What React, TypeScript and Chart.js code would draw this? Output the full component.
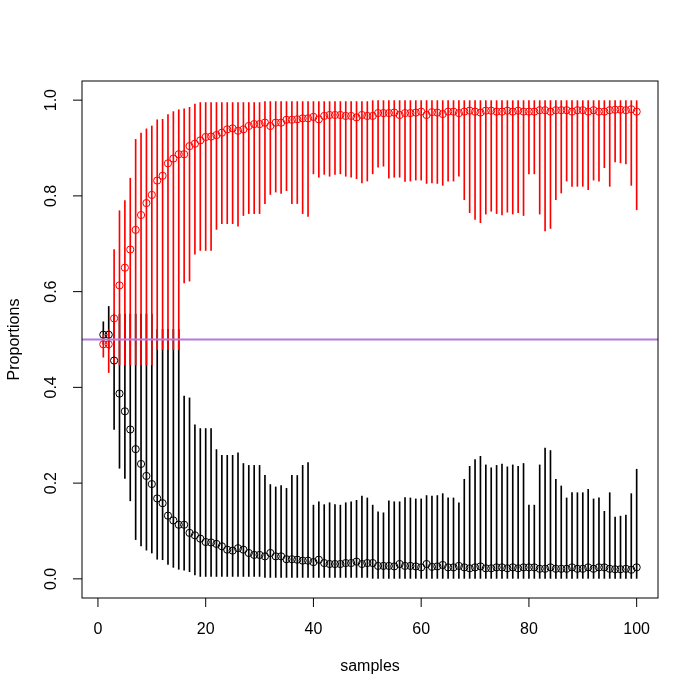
import React, { useEffect, useRef } from "react";
import { Chart, registerables } from "chart.js";

Chart.register(...registerables);

// x categories: sample index 1..100
const SAMPLES: number[] = Array.from({ length: 100 }, (_, i) => i + 1);

// red series: proportion, lower and upper bounds
const RED_MEAN = [
  0.490, 0.490, 0.544, 0.613, 0.650, 0.688, 0.729, 0.760, 0.785, 0.802,
  0.832, 0.842, 0.868, 0.878, 0.887, 0.887, 0.904, 0.909, 0.916, 0.923,
  0.924, 0.927, 0.932, 0.939, 0.941, 0.936, 0.939, 0.946, 0.950, 0.950,
  0.953, 0.946, 0.953, 0.953, 0.959, 0.959, 0.960, 0.962, 0.962, 0.965,
  0.960, 0.967, 0.969, 0.969, 0.969, 0.967, 0.967, 0.964, 0.969, 0.967,
  0.967, 0.973, 0.973, 0.973, 0.974, 0.969, 0.973, 0.973, 0.974, 0.976,
  0.969, 0.975, 0.974, 0.971, 0.976, 0.976, 0.973, 0.976, 0.978, 0.976,
  0.974, 0.978, 0.978, 0.976, 0.976, 0.978, 0.976, 0.978, 0.976, 0.976,
  0.976, 0.979, 0.979, 0.976, 0.979, 0.979, 0.979, 0.976, 0.979, 0.979,
  0.976, 0.979, 0.976, 0.976, 0.979, 0.980, 0.980, 0.979, 0.981, 0.976,
];
const RED_LOWER = [
  0.463, 0.431, 0.447, 0.447, 0.447, 0.447, 0.447, 0.447, 0.447, 0.447,
  0.479, 0.479, 0.479, 0.479, 0.479, 0.618, 0.622, 0.678, 0.686, 0.686,
  0.686, 0.730, 0.742, 0.742, 0.742, 0.737, 0.759, 0.763, 0.763, 0.763,
  0.784, 0.803, 0.808, 0.805, 0.811, 0.784, 0.784, 0.763, 0.757, 0.846,
  0.839, 0.845, 0.841, 0.845, 0.846, 0.841, 0.839, 0.836, 0.827, 0.831,
  0.846, 0.860, 0.862, 0.837, 0.839, 0.839, 0.830, 0.831, 0.833, 0.833,
  0.826, 0.827, 0.826, 0.822, 0.831, 0.831, 0.841, 0.792, 0.765, 0.751,
  0.744, 0.762, 0.768, 0.763, 0.760, 0.766, 0.762, 0.765, 0.759, 0.846,
  0.846, 0.762, 0.727, 0.732, 0.792, 0.806, 0.831, 0.820, 0.820, 0.820,
  0.813, 0.833, 0.831, 0.859, 0.820, 0.871, 0.869, 0.867, 0.822, 0.771,
];
const RED_UPPER = [
  0.510, 0.520, 0.688, 0.769, 0.790, 0.837, 0.918, 0.931, 0.940, 0.946,
  0.959, 0.960, 0.970, 0.976, 0.980, 0.982, 0.985, 0.992, 0.995, 0.995,
  0.995, 0.995, 0.995, 0.995, 0.995, 0.995, 0.995, 0.995, 0.995, 0.995,
  0.997, 0.997, 0.997, 0.997, 0.997, 0.997, 0.997, 0.997, 0.997, 0.997,
  0.997, 0.997, 0.997, 0.997, 0.997, 0.997, 0.997, 0.997, 0.997, 0.997,
  0.999, 0.999, 0.999, 0.999, 0.999, 0.999, 0.999, 0.999, 0.999, 0.999,
  0.999, 0.999, 0.999, 0.999, 0.999, 0.999, 0.999, 0.999, 0.999, 0.999,
  0.999, 0.999, 0.999, 0.999, 0.999, 0.999, 0.999, 0.999, 0.999, 0.999,
  0.999, 0.999, 0.999, 0.999, 0.999, 0.999, 0.999, 0.999, 0.999, 0.999,
  0.999, 0.999, 0.999, 0.999, 0.999, 0.999, 0.999, 0.999, 0.999, 0.999,
];

// black series: proportion, lower and upper bounds
const BLACK_MEAN = [
  0.510, 0.510, 0.456, 0.387, 0.350, 0.312, 0.271, 0.240, 0.215, 0.198,
  0.168, 0.158, 0.132, 0.122, 0.113, 0.113, 0.096, 0.091, 0.084, 0.077,
  0.076, 0.073, 0.068, 0.061, 0.059, 0.064, 0.061, 0.054, 0.050, 0.050,
  0.047, 0.054, 0.047, 0.047, 0.041, 0.041, 0.040, 0.038, 0.038, 0.035,
  0.040, 0.033, 0.031, 0.031, 0.031, 0.033, 0.033, 0.036, 0.031, 0.033,
  0.033, 0.027, 0.027, 0.027, 0.026, 0.031, 0.027, 0.027, 0.026, 0.024,
  0.031, 0.025, 0.026, 0.029, 0.024, 0.024, 0.027, 0.024, 0.022, 0.024,
  0.026, 0.022, 0.022, 0.024, 0.024, 0.022, 0.024, 0.022, 0.024, 0.024,
  0.024, 0.021, 0.021, 0.024, 0.021, 0.021, 0.021, 0.024, 0.021, 0.021,
  0.024, 0.021, 0.024, 0.024, 0.021, 0.020, 0.020, 0.021, 0.019, 0.024,
];
const BLACK_LOWER = [
  0.490, 0.480, 0.312, 0.231, 0.210, 0.163, 0.082, 0.069, 0.060, 0.054,
  0.041, 0.040, 0.030, 0.024, 0.020, 0.018, 0.015, 0.008, 0.005, 0.005,
  0.005, 0.005, 0.005, 0.005, 0.005, 0.005, 0.005, 0.005, 0.005, 0.005,
  0.003, 0.003, 0.003, 0.003, 0.003, 0.003, 0.003, 0.003, 0.003, 0.003,
  0.003, 0.003, 0.003, 0.003, 0.003, 0.003, 0.003, 0.003, 0.003, 0.003,
  0.001, 0.001, 0.001, 0.001, 0.001, 0.001, 0.001, 0.001, 0.001, 0.001,
  0.001, 0.001, 0.001, 0.001, 0.001, 0.001, 0.001, 0.001, 0.001, 0.001,
  0.001, 0.001, 0.001, 0.001, 0.001, 0.001, 0.001, 0.001, 0.001, 0.001,
  0.001, 0.001, 0.001, 0.001, 0.001, 0.001, 0.001, 0.001, 0.001, 0.001,
  0.001, 0.001, 0.001, 0.001, 0.001, 0.001, 0.001, 0.001, 0.001, 0.001,
];
const BLACK_UPPER = [
  0.537, 0.569, 0.553, 0.553, 0.553, 0.553, 0.553, 0.553, 0.553, 0.553,
  0.521, 0.521, 0.521, 0.521, 0.521, 0.382, 0.378, 0.322, 0.314, 0.314,
  0.314, 0.270, 0.258, 0.258, 0.258, 0.263, 0.241, 0.237, 0.237, 0.237,
  0.216, 0.197, 0.192, 0.195, 0.189, 0.216, 0.216, 0.237, 0.243, 0.154,
  0.161, 0.155, 0.159, 0.155, 0.154, 0.159, 0.161, 0.164, 0.173, 0.169,
  0.154, 0.140, 0.138, 0.163, 0.161, 0.161, 0.170, 0.169, 0.167, 0.167,
  0.174, 0.173, 0.174, 0.178, 0.169, 0.169, 0.159, 0.208, 0.235, 0.249,
  0.256, 0.238, 0.232, 0.237, 0.240, 0.234, 0.238, 0.235, 0.241, 0.154,
  0.154, 0.238, 0.273, 0.268, 0.208, 0.194, 0.169, 0.180, 0.180, 0.180,
  0.187, 0.167, 0.169, 0.141, 0.180, 0.129, 0.131, 0.133, 0.178, 0.229,
];

const REF_LINE = 0.5;
const X_TICKS = [0, 20, 40, 60, 80, 100];
const X_TICK_LABELS = ["0", "20", "40", "60", "80", "100"];
const Y_TICKS = [0, 0.2, 0.4, 0.6, 0.8, 1.0];
const Y_TICK_LABELS = ["0.0", "0.2", "0.4", "0.6", "0.8", "1.0"];
const X_TITLE = "samples";
const Y_TITLE = "Proportions";

const FONT = '16px "Liberation Sans", Arial, Helvetica, sans-serif';

const rAxesPlugin = {
  id: "rAxes",
  afterDatasetsDraw(chart: any) {
    const { ctx, chartArea: a, scales } = chart;
    const y = scales.y;
    ctx.save();
    ctx.beginPath();
    ctx.rect(a.left, a.top, a.right - a.left, a.bottom - a.top);
    ctx.clip();
    const py = y.getPixelForValue(REF_LINE);
    ctx.strokeStyle = "#b47ae0";
    ctx.lineWidth = 2;
    ctx.beginPath();
    ctx.moveTo(a.left, py);
    ctx.lineTo(a.right, py);
    ctx.stroke();
    ctx.restore();
  },
  afterDraw(chart: any) {
    const { ctx, chartArea: a, scales } = chart;
    const x = scales.x;
    const y = scales.y;
    ctx.save();
    ctx.strokeStyle = "#000";
    ctx.lineWidth = 1;
    ctx.strokeRect(a.left, a.top, a.right - a.left, a.bottom - a.top);

    ctx.fillStyle = "#000";
    ctx.font = FONT;
    ctx.textAlign = "center";
    ctx.textBaseline = "middle";

    X_TICKS.forEach((v, i) => {
      const px = x.getPixelForValue(v);
      ctx.beginPath();
      ctx.moveTo(px, a.bottom);
      ctx.lineTo(px, a.bottom + 9);
      ctx.stroke();
      ctx.fillText(X_TICK_LABELS[i], px, a.bottom + 32);
    });

    Y_TICKS.forEach((v, i) => {
      const py = y.getPixelForValue(v);
      ctx.beginPath();
      ctx.moveTo(a.left - 9, py);
      ctx.lineTo(a.left, py);
      ctx.stroke();
      ctx.save();
      ctx.translate(a.left - 30, py);
      ctx.rotate(-Math.PI / 2);
      ctx.fillText(Y_TICK_LABELS[i], 0, 0);
      ctx.restore();
    });

    ctx.fillText(X_TITLE, (a.left + a.right) / 2, a.bottom + 69);
    ctx.save();
    ctx.translate(15, (a.top + a.bottom) / 2);
    ctx.rotate(-Math.PI / 2);
    ctx.fillText(Y_TITLE, 0, 0);
    ctx.restore();
    ctx.restore();
  },
};

export default function App() {
  const ref = useRef<HTMLCanvasElement | null>(null);

  useEffect(() => {
    if (!ref.current) return;
    const barData = (lo: number[], hi: number[]) =>
      SAMPLES.map((s, i) => ({ x: s, y: [lo[i], hi[i]] }));
    const ptData = (m: number[]) => SAMPLES.map((s, i) => ({ x: s, y: m[i] }));

    const chart = new Chart(ref.current, {
      type: "scatter",
      data: {
        datasets: [
          {
            type: "bar",
            data: barData(BLACK_LOWER, BLACK_UPPER) as any,
            backgroundColor: "#000000",
            borderWidth: 0,
            barThickness: 1,
            grouped: false,
            order: 4,
          } as any,
          {
            type: "bar",
            data: barData(RED_LOWER, RED_UPPER) as any,
            backgroundColor: "#ff0000",
            borderWidth: 0,
            barThickness: 1,
            grouped: false,
            order: 3,
          } as any,
          {
            type: "scatter",
            data: ptData(BLACK_MEAN),
            pointStyle: "circle",
            pointRadius: 3.6,
            pointBorderWidth: 1,
            borderColor: "#000000",
            backgroundColor: "rgba(0,0,0,0)",
            pointBackgroundColor: "rgba(0,0,0,0)",
            pointBorderColor: "#000000",
            order: 2,
          } as any,
          {
            type: "scatter",
            data: ptData(RED_MEAN),
            pointStyle: "circle",
            pointRadius: 3.6,
            pointBorderWidth: 1,
            borderColor: "#ff0000",
            backgroundColor: "rgba(0,0,0,0)",
            pointBackgroundColor: "rgba(0,0,0,0)",
            pointBorderColor: "#ff0000",
            order: 1,
          } as any,
        ],
      },
      options: {
        responsive: false,
        animation: false,
        events: [],
        layout: { padding: { left: 82, right: 42, top: 81, bottom: 102 } },
        plugins: { legend: { display: false }, tooltip: { enabled: false } },
        scales: {
          x: { type: "linear", min: -2.96, max: 103.96, offset: false, display: false },
          y: { type: "linear", min: -0.04, max: 1.04, display: false },
        },
      },
      plugins: [rAxesPlugin],
    });
    return () => chart.destroy();
  }, []);

  return (
    <div style={{ position: "absolute", left: 0, top: 0, width: 700, height: 700, background: "#fff" }}>
      <canvas ref={ref} width={700} height={700} style={{ width: 700, height: 700 }} />
    </div>
  );
}
